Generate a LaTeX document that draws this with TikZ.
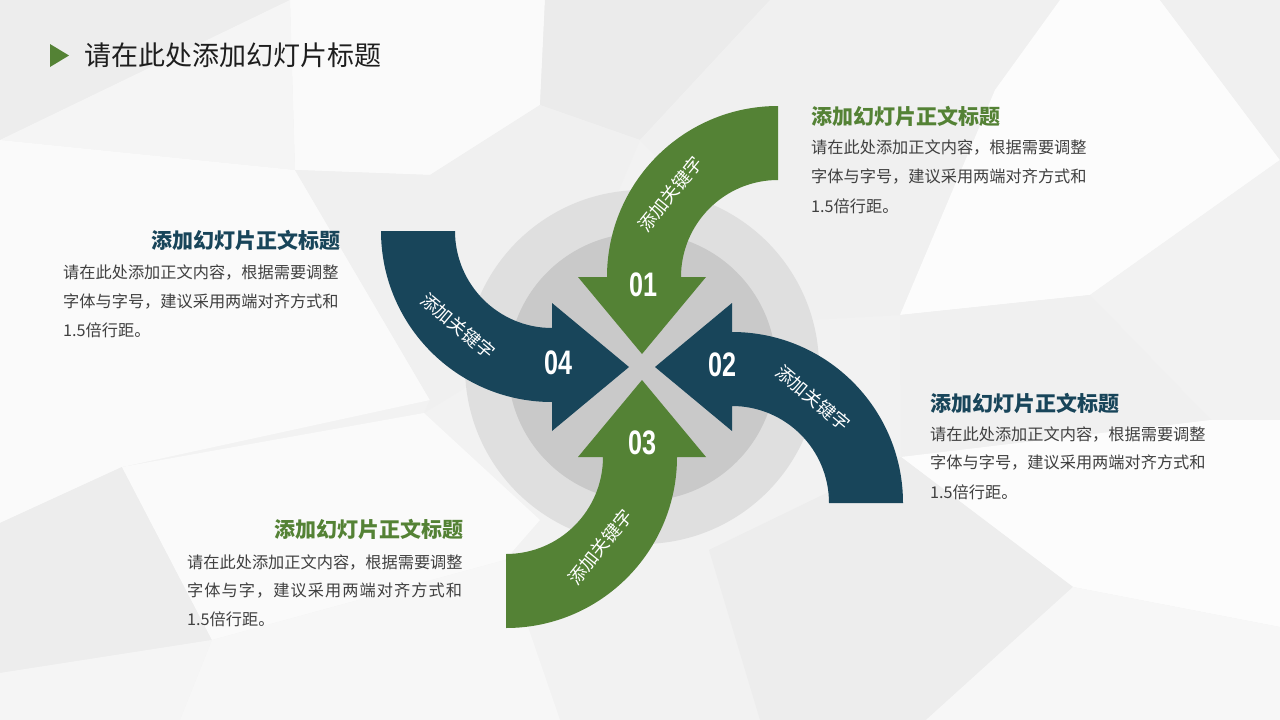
\documentclass[tikz,border=0pt]{standalone}
\usepackage{fontspec}
\newfontfamily\cjk{Noto Sans CJK SC}
\newfontfamily\numfont[FakeStretch=0.74]{Liberation Sans}
\definecolor{grn}{HTML}{548235}
\definecolor{navy}{HTML}{18455A}
\definecolor{bodygray}{HTML}{404040}
\definecolor{titlegray}{HTML}{1E1E1E}
\definecolor{ringout}{HTML}{DFDFDF}
\definecolor{ringin}{HTML}{C9C9C9}
\tikzset{
  kw/.style={text=white, font=\cjk\fontsize{18}{18}\selectfont, inner sep=0pt},
  num/.style={text=white, font=\numfont\bfseries\fontsize{34}{34}\selectfont, inner sep=0pt},
  headG/.style={text=grn, font=\cjk\bfseries\fontsize{21}{21}\selectfont, inner sep=0pt},
  headB/.style={text=navy, font=\cjk\bfseries\fontsize{21}{21}\selectfont, inner sep=0pt},
  body/.style={text=bodygray, font=\cjk\fontsize{16.2}{16.2}\selectfont, inner sep=0pt, anchor=west},
  facet/.style={fill=#1, draw=none},
}
\newcommand{\pinarrow}[1]{\fill[#1] (136,-261) arc[start angle=270,end angle=180,radius=171] -- (-64,-90) -- (0,-13) -- (64,-90) -- (39,-90) arc[start angle=180,end angle=270,radius=97] -- cycle;}
\begin{document}
\begin{tikzpicture}[x=1pt,y=-1pt]
\useasboundingbox (0,0) rectangle (1280,720);
% background facets
\fill[color=black!5] (0,0) rectangle (1280,720);
\fill[facet=black!7] (0,0) -- (290,0) -- (0,140) -- cycle;
\fill[facet=black!2] (290,0) -- (545,0) -- (540,105) -- (430,175) -- (295,170) -- cycle;
\fill[facet=black!4] (0,140) -- (290,0) -- (295,170) -- cycle;
\fill[facet=black!8] (545,0) -- (770,0) -- (640,140) -- (540,105) -- cycle;
\fill[facet=black!6] (770,0) -- (1060,0) -- (995,90) -- (900,315) -- (810,320) -- (640,140) -- cycle;
\fill[facet=black!1] (1060,0) -- (1160,0) -- (1280,160) -- (1090,295) -- (900,315) -- (995,90) -- cycle;
\fill[facet=black!6] (1160,0) -- (1280,0) -- (1280,160) -- cycle;
\fill[facet=black!5] (1280,160) -- (1280,420) -- (1211,420) -- (1090,295) -- cycle;
\fill[facet=black!6] (900,315) -- (1090,295) -- (1211,420) -- (901,457) -- cycle;
\fill[facet=black!1] (1211,420) -- (1280,420) -- (1280,627) -- (1073,587) -- (901,457) -- cycle;
\fill[facet=black!7] (709,550) -- (901,457) -- (1073,587) -- (926,720) -- (760,720) -- cycle;
\fill[facet=black!3] (1073,587) -- (1280,627) -- (1280,720) -- (926,720) -- cycle;
\fill[facet=black!2] (0,140) -- (295,170) -- (430,400) -- (122,467) -- (0,523) -- cycle;
\fill[facet=black!6] (295,170) -- (430,175) -- (540,105) -- (640,140) -- (560,330) -- (424,413) -- (430,400) -- cycle;
\fill[facet=black!7] (0,523) -- (122,467) -- (212,640) -- (0,673) -- cycle;
\fill[facet=black!2] (122,467) -- (424,413) -- (540,520) -- (505,560) -- (212,640) -- cycle;
\fill[facet=black!4] (0,673) -- (212,640) -- (180,720) -- (0,720) -- cycle;
\fill[facet=black!3] (212,640) -- (505,560) -- (560,720) -- (180,720) -- cycle;
% rings
\fill[ringout] (642,367) circle[radius=177pt];
\fill[ringin] (642,367) circle[radius=134pt];
% arrows
\begin{scope}[shift={(642,367)}]
  \pinarrow{grn}
\end{scope}
\begin{scope}[shift={(642,367)}, rotate=90]
  \pinarrow{navy}
\end{scope}
\begin{scope}[shift={(642,367)}, rotate=180]
  \pinarrow{grn}
\end{scope}
\begin{scope}[shift={(642,367)}, rotate=-90]
  \pinarrow{navy}
\end{scope}
% keywords on arrows
\node[kw, rotate=51] (k1) at (670,194) {添加关键字};
\node[kw, rotate=-40] (k2) at (813,398) {添加关键字};
\node[kw, rotate=51] (k3) at (600,547) {添加关键字};
\node[kw, rotate=-40] (k4) at (458,326) {添加关键字};
% numbers
\node[num] (n1) at (643,285) {01};
\node[num] (n2) at (722,365) {02};
\node[num] (n3) at (642,443) {03};
\node[num] (n4) at (558,363) {04};
% title
\fill[grn] (50,44) -- (69,55.5) -- (50,67) -- cycle;
\node[anchor=west, inner sep=0pt, text=titlegray, font=\cjk\fontsize{27}{27}\selectfont] (title) at (84,55) {请在此处添加幻灯片标题};
% top right block
\node[headG, anchor=west] (h1) at (811,116) {添加幻灯片正文标题};
\node[body] (b1a) at (811,148) {请在此处添加正文内容，根据需要调整};
\node[body] (b1b) at (811,177) {字体与字号，建议采用两端对齐方式和};
\node[body] (b1c) at (811,206) {1.5倍行距。};
% left block
\node[headB, anchor=east] (h4) at (341,240) {添加幻灯片正文标题};
\node[body] (b4a) at (63,273) {请在此处添加正文内容，根据需要调整};
\node[body] (b4b) at (63,302) {字体与字号，建议采用两端对齐方式和};
\node[body] (b4c) at (63,330) {1.5倍行距。};
% right block
\node[headB, anchor=west] (h2) at (930,403) {添加幻灯片正文标题};
\node[body] (b2a) at (930,435) {请在此处添加正文内容，根据需要调整};
\node[body] (b2b) at (930,463) {字体与字号，建议采用两端对齐方式和};
\node[body] (b2c) at (930,492) {1.5倍行距。};
% bottom block
\node[headG, anchor=east] (h3) at (464,529) {添加幻灯片正文标题};
\node[body] (b3a) at (187,562) {请在此处添加正文内容，根据需要调整};
\node[body] (b3b) at (187,590) {\makebox[275pt][s]{字\hfil 体\hfil 与\hfil 字\hfil ，\hfil 建\hfil 议\hfil 采\hfil 用\hfil 两\hfil 端\hfil 对\hfil 齐\hfil 方\hfil 式\hfil 和}};
\node[body] (b3c) at (187,619) {1.5倍行距。};
\end{tikzpicture}
\end{document}
